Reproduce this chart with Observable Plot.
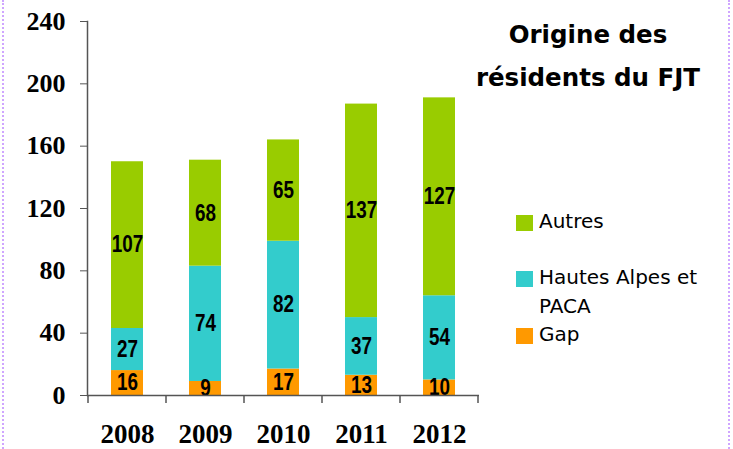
<!DOCTYPE html>
<html>
<head>
<meta charset="utf-8">
<script src="https://cdn.jsdelivr.net/npm/d3@7"></script>
<script src="https://cdn.jsdelivr.net/npm/@observablehq/plot@0.6"></script>
<style>
  body { margin: 0; background: #fff; }
  #wrap { position: relative; width: 733px; height: 449px; overflow: hidden; background: #fff; }
  #wrap svg { position: absolute; left: 0; top: 0; }
  .vline { position: absolute; top: 0; height: 449px; width: 0; border-left: 2px dotted #cfa6ff; }
  #title { position: absolute; left: 460px; width: 256px; top: 13px; text-align: center;
    font-family: "DejaVu Sans", sans-serif; font-weight: bold; font-size: 24.5px; line-height: 43px; color: #000; }
  .leg { position: absolute; left: 516px; font-family: "DejaVu Sans", sans-serif; font-size: 20px; color: #000; }
  .sw { position: absolute; left: 0; width: 17px; height: 16px; }
  .lt { position: absolute; left: 23px; white-space: nowrap; line-height: 29px; }
</style>
</head>
<body>
<div id="wrap"></div>
<script>
const years = ["2008", "2009", "2010", "2011", "2012"];
const gap = [16, 9, 17, 13, 10];
const hautesAlpes = [27, 74, 82, 37, 54];
const autres = [107, 68, 65, 137, 127];
const seriesNames = ["Gap", "Hautes Alpes et PACA", "Autres"];
const seriesColors = ["#FF9900", "#33CCCC", "#99CC00"];
const yTicks = [0, 40, 80, 120, 160, 200, 240];

const seriesValues = [gap, hautesAlpes, autres];
const rows = [];
years.forEach((year, i) => {
  seriesNames.forEach((s, j) => rows.push({year, series: s, value: seriesValues[j][i]}));
});

const serif = "'Liberation Serif', 'Times New Roman', serif";
const sans = "'Liberation Sans', Arial, sans-serif";

const plot = Plot.plot({
  width: 733,
  height: 449,
  marginLeft: 87,
  marginRight: 254,
  marginTop: 21,
  marginBottom: 54,
  style: {background: "transparent", overflow: "visible"},
  x: {domain: years, paddingInner: 0.59, paddingOuter: 0.295, axis: null, label: null},
  y: {domain: [0, 240], axis: null, label: null},
  color: {domain: seriesNames, range: seriesColors},
  marks: [
    Plot.barY(rows, {x: "year", y: "value", fill: "series"}),
    Plot.text(rows, Plot.stackY({
      x: "year", y: "value", z: "series", text: "value",
      fontSize: 23, fontWeight: "bold", fontFamily: sans, fill: "#000",
      className: "barlabels"
    })),
    Plot.ruleY([0], {stroke: "#555", strokeWidth: 1.5}),
    Plot.frame({anchor: "left", stroke: "#555", strokeWidth: 1.5}),
    Plot.axisY({
      ticks: yTicks, tickSize: 7, tickPadding: 15, stroke: "#555", label: null,
      fontSize: 26, fontWeight: "bold", fontFamily: serif, fill: "#000"
    }),
    Plot.axisX({
      tickSize: 0, tickPadding: 28, label: null,
      fontSize: 27, fontWeight: "bold", fontFamily: serif, fill: "#000"
    })
  ]
});

// category-boundary tick marks on the x axis, from the Plot x scale
const xs = plot.scale("x");
const ys = plot.scale("y");
const step = xs.apply(years[1]) - xs.apply(years[0]);
const gapW = step - xs.bandwidth;
const bounds = years.map(y => xs.apply(y) - gapW / 2);
bounds.push(bounds[bounds.length - 1] + step);
const y0 = ys.apply(0);
d3.select(plot).append("g")
  .selectAll("line").data(bounds).join("line")
  .attr("x1", d => d).attr("x2", d => d)
  .attr("y1", y0).attr("y2", y0 + 8)
  .attr("stroke", "#555").attr("stroke-width", 1.5);

const wrap = document.getElementById("wrap");
wrap.appendChild(plot);

// condense the bar value labels horizontally (Arial Narrow look)
d3.select(plot).selectAll("g.barlabels text").each(function() {
  const len = this.getComputedTextLength();
  if (len > 0) {
    this.setAttribute("textLength", (len * 0.82).toFixed(2));
    this.setAttribute("lengthAdjust", "spacingAndGlyphs");
  }
});

// decorative dotted page borders
for (const left of [2, 728]) {
  const v = document.createElement("div");
  v.className = "vline";
  v.style.left = left + "px";
  wrap.appendChild(v);
}

// title
const title = document.createElement("div");
title.id = "title";
title.innerHTML = "Origine des<br>résidents du FJT";
wrap.appendChild(title);

// legend (top to bottom: Autres, Hautes Alpes et PACA, Gap)
const legendItems = [
  {name: "Autres", color: seriesColors[2], top: 215, lines: ["Autres"]},
  {name: "Hautes Alpes et PACA", color: seriesColors[1], top: 271, lines: ["Hautes Alpes et", "PACA"]},
  {name: "Gap", color: seriesColors[0], top: 328, lines: ["Gap"]}
];
for (const item of legendItems) {
  const g = document.createElement("div");
  g.className = "leg";
  g.style.top = item.top + "px";
  const sw = document.createElement("div");
  sw.className = "sw";
  sw.style.background = item.color;
  g.appendChild(sw);
  const t = document.createElement("div");
  t.className = "lt";
  t.style.top = "-8px";
  t.innerHTML = item.lines.join("<br>");
  g.appendChild(t);
  wrap.appendChild(g);
}
</script>
</body>
</html>
